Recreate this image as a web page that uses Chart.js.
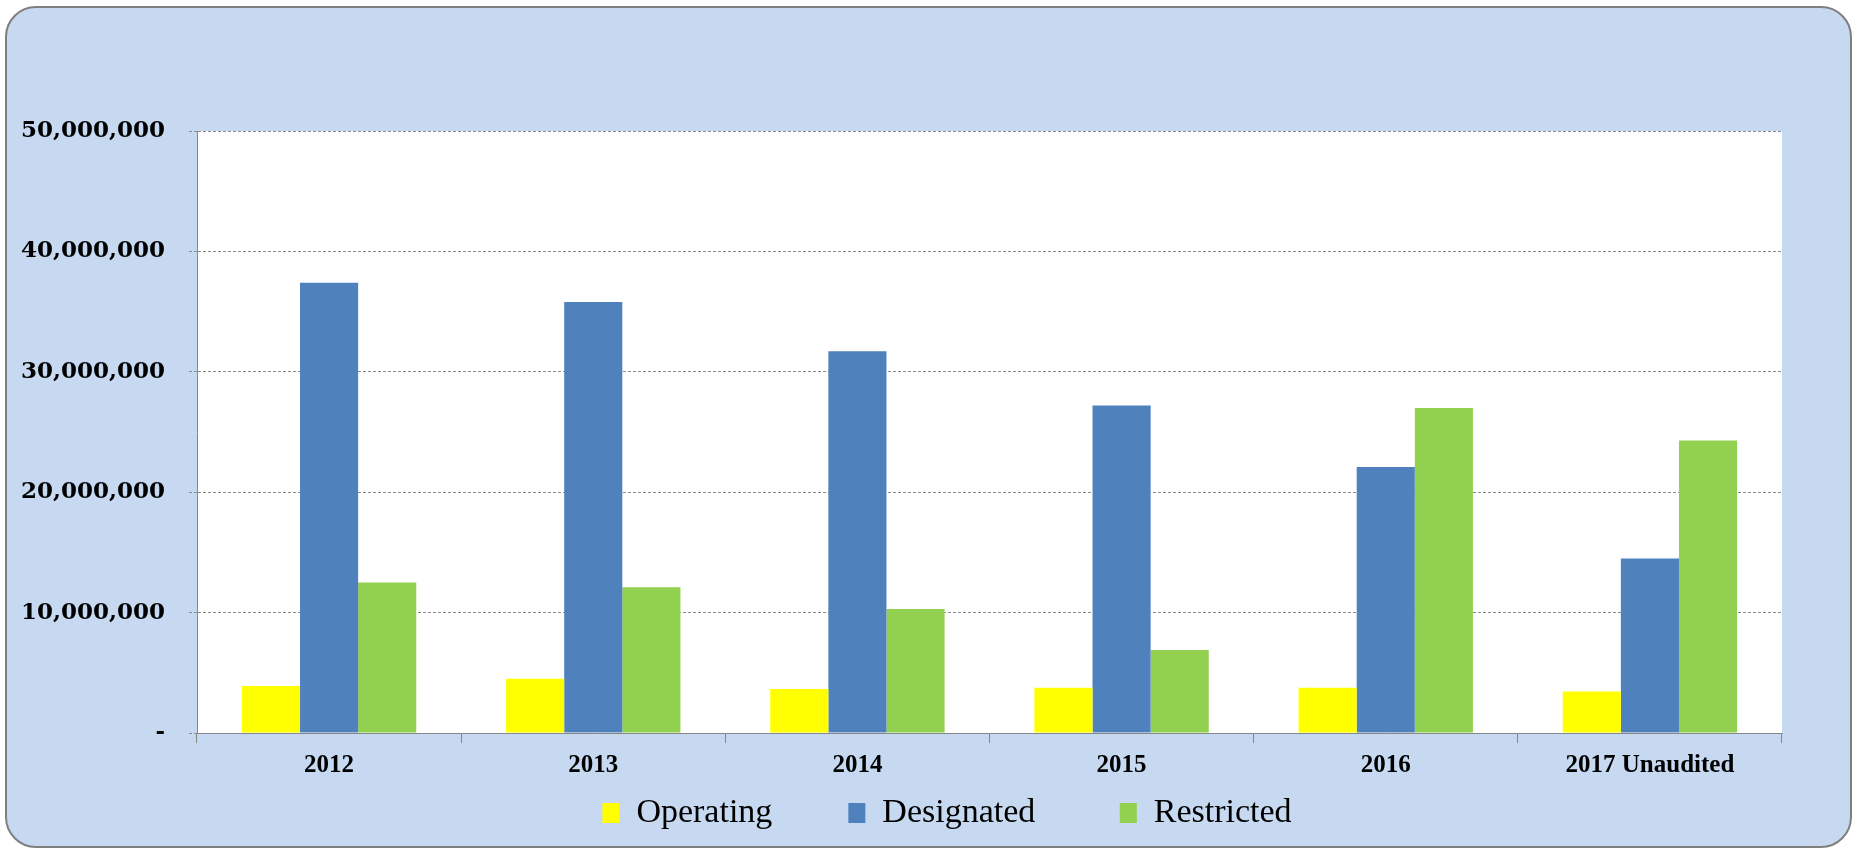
<!DOCTYPE html>
<html>
<head>
<meta charset="utf-8">
<script src="https://cdn.jsdelivr.net/npm/chart.js@4"></script>
<style>
  html, body { margin: 0; padding: 0; background: #fff; }
  canvas { display: block; }
</style>
</head>
<body>
<canvas id="funds" width="1857" height="850"></canvas>
<script>
const years = ["2012", "2013", "2014", "2015", "2016", "2017 Unaudited"];
const operating = [3900000, 4500000, 3650000, 3750000, 3750000, 3450000];
const designated = [37400000, 35800000, 31700000, 27200000, 22100000, 14500000];
const restricted = [12500000, 12100000, 10300000, 6900000, 27000000, 24300000];
const yTicks = [0, 10000000, 20000000, 30000000, 40000000, 50000000];

// blue rounded frame behind everything, white plot area
const framePlugin = {
  id: "frame",
  afterUpdate(chart) {
    // legend sits a bit right of the plot centre in the original
    const lg = chart.legend;
    if (lg) {
      lg.left += 56;
      lg.right += 56;
      lg.adjustHitBoxes();
    }
  },
  beforeDraw(chart) {
    const ctx = chart.ctx;
    const a = chart.chartArea;
    ctx.save();
    ctx.fillStyle = "#ffffff";
    ctx.fillRect(0, 0, chart.width, chart.height);
    ctx.beginPath();
    ctx.roundRect(6, 7, chart.width - 12, chart.height - 10, 30);
    ctx.fillStyle = "#c6d9f1";
    ctx.fill();
    ctx.lineWidth = 2;
    ctx.strokeStyle = "#7f7f7f";
    ctx.stroke();
    ctx.fillStyle = "#ffffff";
    ctx.fillRect(a.left, a.top, a.right - a.left, a.bottom - a.top);
    ctx.restore();
  }
};

// extra spacing after the first two legend entries
const legendGaps = ["        ", "         ", ""];

new Chart(document.getElementById("funds").getContext("2d"), {
  type: "bar",
  data: {
    labels: years,
    datasets: [
      { label: "Operating", data: operating, backgroundColor: "#ffff00" },
      { label: "Designated", data: designated, backgroundColor: "#4f81bd" },
      { label: "Restricted", data: restricted, backgroundColor: "#92d050" }
    ]
  },
  options: {
    responsive: false,
    animation: false,
    categoryPercentage: 0.66,
    barPercentage: 1.0,
    layout: { padding: { top: 131, right: 75, bottom: 10, left: 0 } },
    plugins: {
      tooltip: { enabled: false },
      legend: {
        position: "bottom",
        labels: {
          font: { family: "Liberation Serif", size: 34 },
          color: "#000",
          boxWidth: 17,
          boxHeight: 20,
          padding: 8,
          generateLabels: (chart) => {
            const items = Chart.defaults.plugins.legend.labels.generateLabels(chart);
            items.forEach((it, i) => { it.text = it.text + legendGaps[i]; });
            return items;
          }
        }
      }
    },
    scales: {
      x: {
        afterFit: (scale) => { scale.height = 55; },
        border: { display: true, color: "#868686", width: 1 },
        grid: {
          offset: true,
          drawOnChartArea: false,
          color: "#868686",
          tickLength: 10
        },
        ticks: {
          padding: 8,
          color: "#000",
          font: { family: "Liberation Serif", size: 25, weight: "bold" }
        }
      },
      y: {
        min: 0,
        max: 50000000,
        afterFit: (scale) => { scale.width = 197; },
        afterBuildTicks: (scale) => { scale.ticks = yTicks.map((v) => ({ value: v })); },
        border: { display: true, color: "#868686", width: 1, dash: [3, 2] },
        grid: {
          color: "#8c8c8c",
          tickBorderDash: [3, 2],
          tickLength: 8
        },
        ticks: {
          padding: 24,
          color: "#000",
          font: { family: "DejaVu Serif", size: 23, weight: "bold" },
          callback: function (value) {
            return value === 0 ? "-" : value.toLocaleString("en-US");
          }
        }
      }
    }
  },
  plugins: [framePlugin]
});
</script>
</body>
</html>
